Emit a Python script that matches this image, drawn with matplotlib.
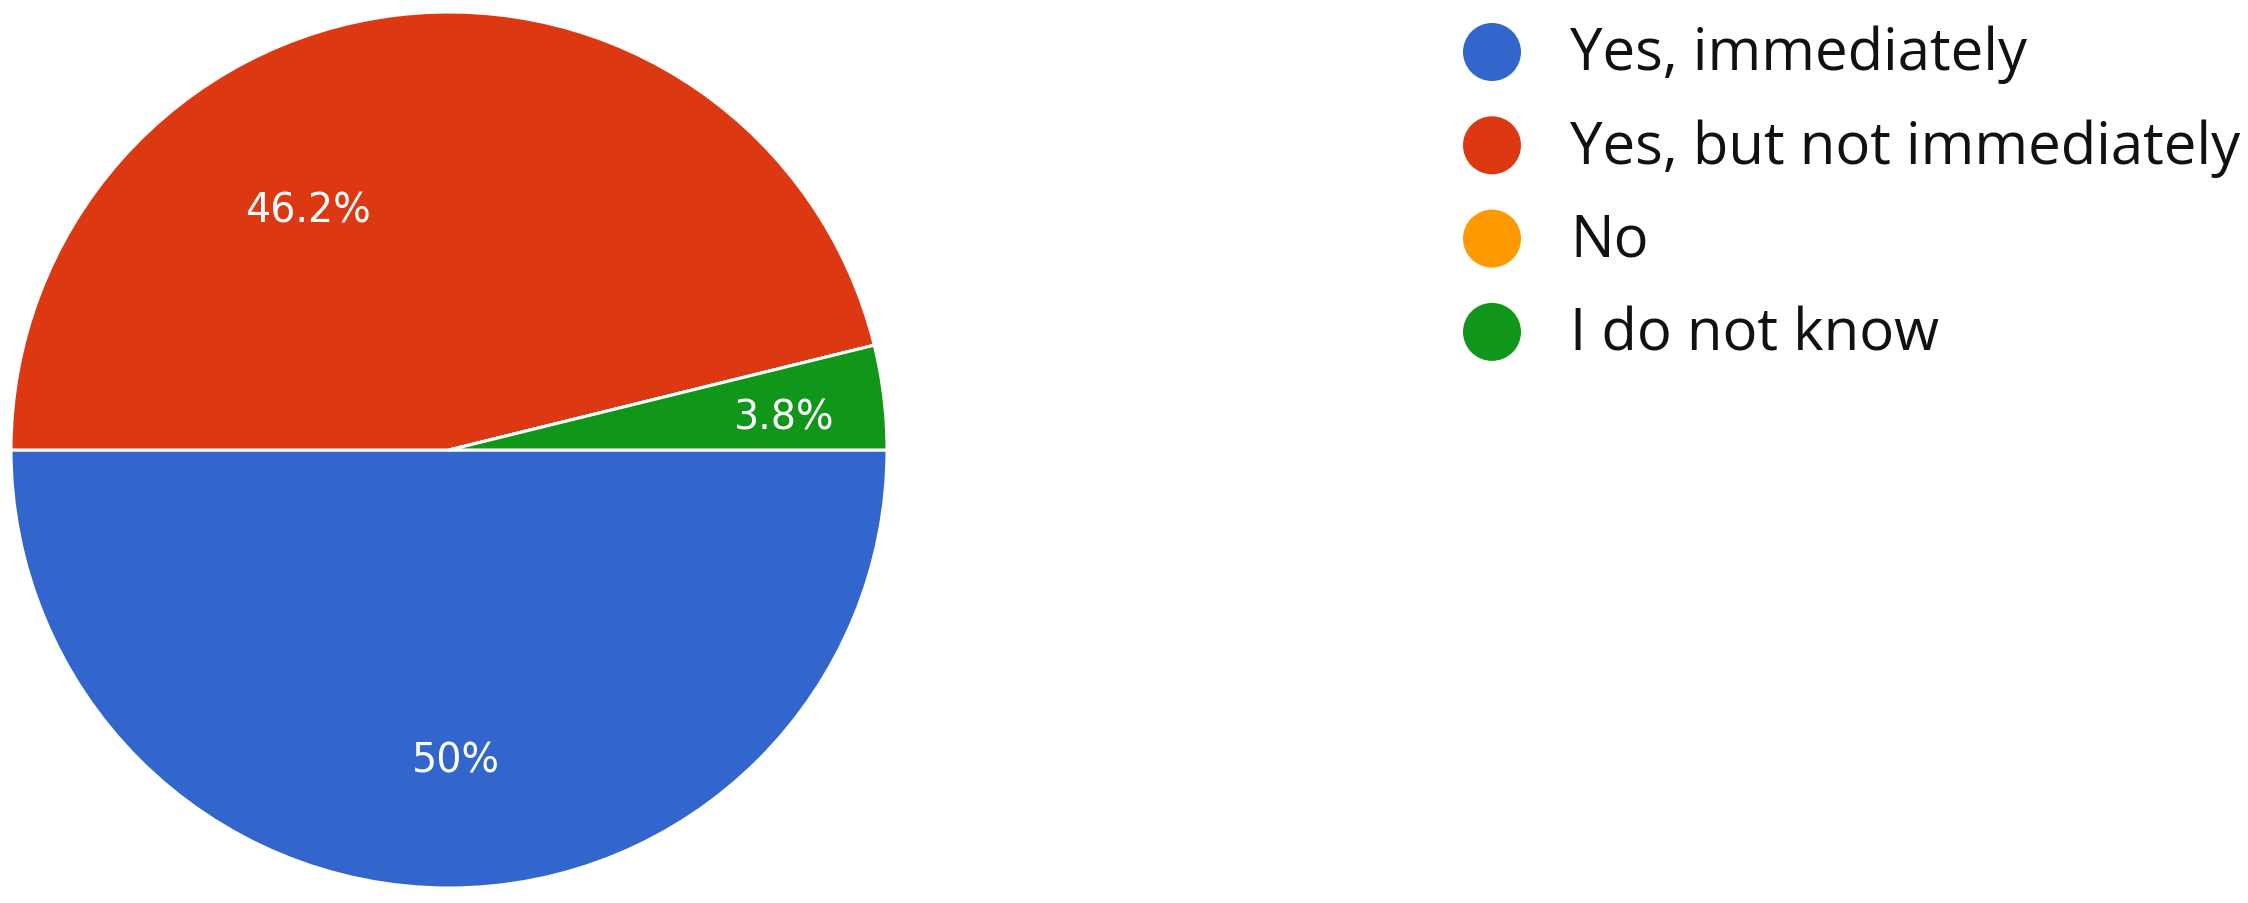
import matplotlib
matplotlib.use("Agg")
import matplotlib.pyplot as plt
import numpy as np
from matplotlib.patches import Circle

categories = ["Yes, immediately", "Yes, but not immediately", "No", "I do not know"]
counts = [13, 12, 0, 1]
pct_labels = ["50%", "46.2%", "", "3.8%"]
colors = ["#3366cc", "#dc3912", "#ff9900", "#109618"]

W, H = 2248, 904
fig = plt.figure(figsize=(W / 100, H / 100), dpi=100)
fig.patch.set_facecolor("white")

# pie axes: center (449, 451) px from top, radius 438 px
cx, cy, R = 449, 451, 438
ax = fig.add_axes([(cx - R) / W, (H - cy - R) / H, 2 * R / W, 2 * R / H])
wedges, _ = ax.pie(counts, colors=colors, startangle=0, counterclock=False,
                   radius=1.0, wedgeprops=dict(edgecolor="white", linewidth=2.2))
ax.set_xlim(-1, 1)
ax.set_ylim(-1, 1)
ax.set_aspect("equal")
ax.axis("off")
for w in wedges:
    w.set_clip_on(False)

# label placement (radius fraction, angle in degrees) per slice
label_pos = [(0.709, 271.3), (0.635, 120.5), (0.0, 0.0), (0.768, 5.6)]
for lab, (r, a) in zip(pct_labels, label_pos):
    if not lab:
        continue
    ax.text(r * np.cos(np.radians(a)), r * np.sin(np.radians(a)), lab,
            ha="center", va="center", color="white", fontsize=28.5,
            family="DejaVu Sans")

# legend drawn in pixel coordinates
lax = fig.add_axes([0, 0, 1, 1], zorder=-1)
lax.set_xlim(0, W)
lax.set_ylim(H, 0)
lax.axis("off")
row0, pitch = 53, 93.3
marker_x, text_x = 1492, 1570
fs = 40
texts = []
for i, (cat, col) in enumerate(zip(categories, colors)):
    y = row0 + pitch * i
    lax.add_patch(Circle((marker_x, y), 29, color=col, lw=0))
    t = lax.text(text_x, y + 2, cat, ha="left", va="center", fontsize=fs,
                 family="Open Sans", color="#111111")
    texts.append(t)

# fit the longest legend label to its measured width in the reference
fig.canvas.draw()
ren = fig.canvas.get_renderer()
wlong = texts[1].get_window_extent(ren).width
scale = 668 / wlong
for t in texts:
    t.set_fontsize(fs * scale)

fig.savefig("out.png", dpi=100, facecolor="white")
